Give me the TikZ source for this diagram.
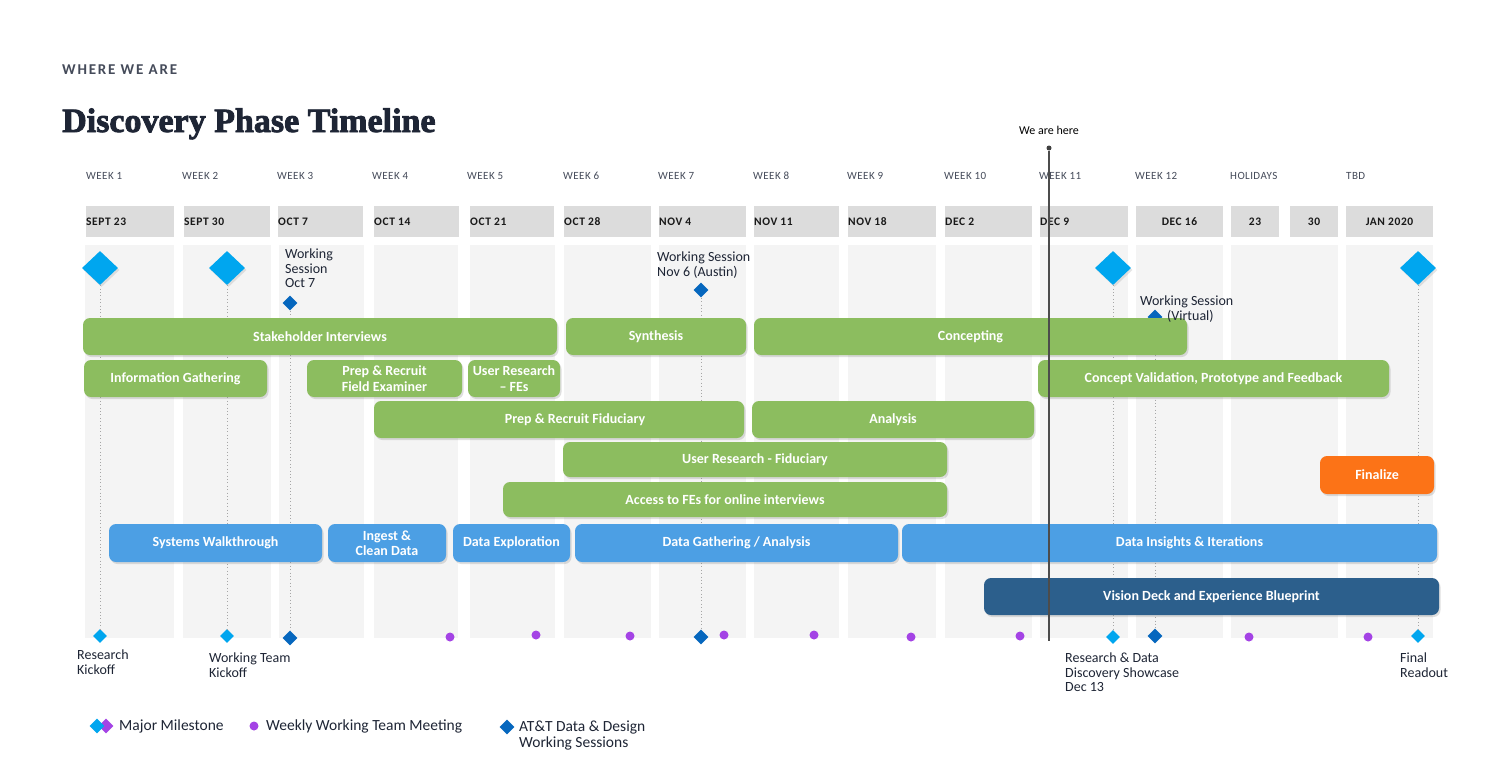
\documentclass[tikz,border=0pt]{standalone}
\usepackage{fontspec}
\setmainfont{Carlito}
\newfontfamily\titlefont{Liberation Serif}[UprightFont={* Bold},FakeBold=2.5]
\newfontfamily\kickerfont{Carlito}[LetterSpace=12]
\newfontfamily\weekfont{Carlito}[LetterSpace=4]
\newfontfamily\datefont{Carlito}[LetterSpace=5]
\usetikzlibrary{positioning,shapes.geometric,shadows}

\definecolor{colbg}{HTML}{F4F4F4}
\definecolor{datebg}{HTML}{DCDCDC}
\definecolor{barGreen}{HTML}{8CBD5F}
\definecolor{barBlue}{HTML}{4C9FE4}
\definecolor{barNavy}{HTML}{2C5F8C}
\definecolor{barOrange}{HTML}{FC7317}
\definecolor{mileBlue}{HTML}{00A6EF}
\definecolor{sessBlue}{HTML}{0667BE}
\definecolor{meetPurple}{HTML}{A443E5}
\definecolor{inkDark}{HTML}{1E2535}
\definecolor{inkGray}{HTML}{454B5A}

\begin{document}
\begin{tikzpicture}[x=1pt,y=-1pt,
  span/.style n args={4}{minimum width={(#3-#1)*1pt},minimum height={(#4-#2)*1pt},
    at={({(#1+#3)/2},{(#2+#4)/2})}},
  bar/.style={rounded corners=7pt,inner sep=0pt,align=center,text=white,
    font=\bfseries\fontsize{14}{15.5}\selectfont,
    drop shadow={shadow xshift=1.5pt,shadow yshift=-2pt,opacity=.25}},
  greenbar/.style={bar,fill=barGreen}, bluebar/.style={bar,fill=barBlue},
  navybar/.style={bar,fill=barNavy}, orangebar/.style={bar,fill=barOrange},
  milestone/.style={diamond,fill=mileBlue,inner sep=0pt,minimum width=36pt,minimum height=34pt,
    drop shadow={shadow xshift=1.5pt,shadow yshift=-2pt,opacity=.2}},
  smallmile/.style={diamond,fill=mileBlue,inner sep=0pt,minimum size=14pt},
  session/.style={diamond,fill=sessBlue,inner sep=0pt,minimum size=15pt},
  meeting/.style={circle,fill=meetPurple,inner sep=0pt,minimum size=9pt},
  guide/.style={black!35,line width=.8pt,dash pattern=on .8pt off 2.6pt},
  note/.style={align=left,inner sep=0pt,text=inkDark,font=\fontsize{14}{14.5}\selectfont},
  weeklbl/.style={inner sep=0pt,text=inkGray,font=\weekfont\fontsize{11}{12}\selectfont},
  datelbl/.style={inner sep=0pt,text=black!90,font=\datefont\bfseries\fontsize{11.5}{12}\selectfont},
  legendlbl/.style={align=left,inner sep=0pt,text=inkDark,font=\fontsize{15.5}{16}\selectfont}
]
\useasboundingbox[fill=white] (0,0) rectangle (1511,760);

% heading
\node[anchor=west,inner sep=0pt,text=inkGray,font=\kickerfont\bfseries\fontsize{15}{15}\selectfont]
  (kicker) at (62,70) {WHERE WE ARE};
\node[anchor=base west,inner sep=0pt,text=inkDark,font=\titlefont\fontsize{34}{36}\selectfont]
  (title) at (62,132) {Discovery Phase Timeline};

% weeks and dates
\foreach \x/\t [count=\i] in {86/WEEK 1,182/WEEK 2,277/WEEK 3,372/WEEK 4,467/WEEK 5,563/WEEK 6,
    658/WEEK 7,753/WEEK 8,847/WEEK 9,944/WEEK 10,1039/WEEK 11,1135/WEEK 12,1230/HOLIDAYS,1346/TBD}
  \node[weeklbl,anchor=west] (week\i) at (\x,176) {\t};
\foreach \l/\r in {86/174,184/270,278/363,374/459,470/554,564/651,659/746,754/839,848/936,
    945/1032,1040/1128,1136/1223,1231/1279,1290/1338,1346/1433}
  \fill[datebg] (\l,206) rectangle (\r,237);
\foreach \x/\t [count=\i] in {86/SEPT 23,184/SEPT 30,278/OCT 7,374/OCT 14,470/OCT 21,564/OCT 28,
    659/NOV 4,754/NOV 11,848/NOV 18,945/DEC 2,1040/DEC 9}
  \node[datelbl,anchor=west] (date\i) at (\x,222) {\t};
\foreach \x/\t [count=\i from 12] in {1179.5/DEC 16,1255/23,1314/30,1389.5/JAN 2020}
  \node[datelbl] (date\i) at (\x,222) {\t};

% week columns
\foreach \l/\r in {85/174,183/271,279/364,374/458,470/555,564/651,659/746,754/839,848/936,
    945/1032,1040/1128,1136/1223,1231/1338,1346/1433}
  \fill[colbg] (\l,245) rectangle (\r,638);

% milestones, sessions, meetings
\node[milestone] (ms1) at (100,268) {};
\node[milestone] (ms2) at (227,268) {};
\node[milestone] (ms3) at (1113,268) {};
\node[milestone] (ms4) at (1418,268) {};
\node[smallmile] (bm1) at (100,636) {};
\node[smallmile] (bm2) at (227,636) {};
\node[smallmile] (bm3) at (1113,637) {};
\node[smallmile] (bm4) at (1418,636) {};
\node[session] (ws1) at (290,303) {};
\node[session] (ws2) at (701,290) {};
\node[session] (ws3) at (1155,317) {};
\node[session] (bs1) at (290,638) {};
\node[session] (bs2) at (701,637) {};
\node[session] (bs3) at (1155,636) {};
\foreach \x/\y [count=\i] in {450/637,536/635,630/636,724/635,814/635,911/637,1020/636,1249/637,1368/637}
  \node[meeting] (meet\i) at (\x,\y) {};

\draw[guide] (ms1.south) -- (bm1.north);
\draw[guide] (ms2.south) -- (bm2.north);
\draw[guide] (ms3.south) -- (bm3.north);
\draw[guide] (ms4.south) -- (bm4.north);
\draw[guide] (ws1.south) -- (bs1.north);
\draw[guide] (ws2.south) -- (bs2.north);
\draw[guide] (ws3.south) -- (bs3.north);

% activity bars
\node[greenbar,span={83}{318}{557}{355}] (stake) {Stakeholder Interviews};
\node[greenbar,span={566}{318}{746}{355}] (synth) {Synthesis};
\node[greenbar,span={754}{318}{1187}{355}] (concept) {Concepting};
\node[greenbar,span={84}{360}{267}{397}] (infogath) {Information Gathering};
\node[greenbar,span={307}{360}{462}{397}] (prepfe) {Prep \& Recruit\\Field Examiner};
\node[greenbar,span={468}{360}{560}{397}] (resfe) {User Research\\\textendash\ FEs};
\node[greenbar,span={1038}{360}{1389}{397}] (validate) {Concept Validation, Prototype and Feedback};
\node[greenbar,span={374}{401}{744}{438}] (prepfid) {\hspace*{32pt}Prep \& Recruit Fiduciary};
\node[greenbar,span={752}{401}{1034}{438}] (analysis) {Analysis};
\node[greenbar,span={563}{442}{947}{477}] (resfid) {User Research - Fiduciary};
\node[greenbar,span={503}{482}{947}{517}] (access) {Access to FEs for online interviews};
\node[orangebar,span={1320}{456}{1434}{494}] (finalize) {Finalize};
\node[bluebar,span={109}{524}{322}{562}] (walk) {Systems Walkthrough};
\node[bluebar,span={328}{524}{446}{562}] (ingest) {Ingest \&\\Clean Data};
\node[bluebar,span={453}{524}{570}{562}] (explore) {Data Exploration};
\node[bluebar,span={575}{524}{898}{562}] (gather) {Data Gathering / Analysis};
\node[bluebar,span={902}{524}{1437}{562}] (insights) {\hspace*{40pt}Data Insights \& Iterations};
\node[navybar,span={984}{578}{1439}{615}] (vision) {Vision Deck and Experience Blueprint};

% today marker
\node[inner sep=0pt,text=black,font=\fontsize{12}{12}\selectfont] (here) at (1049,130) {We are here};
\node[circle,fill=black!75,inner sep=0pt,minimum size=5pt] (herept) at (1049,148) {};
\coordinate (herebot) at (1049,641);
\draw[black!70,line width=1.6pt] (herept) -- (herebot);

% notes
\node[note,anchor=north west] (oct7) at (285,249) {Working\\Session\\Oct 7};
\node[note,anchor=north west] (nov6) at (657,252) {Working Session\\Nov 6 (Austin)};
\node[note,anchor=north west] (virtual) at (1140,296) {Working Session\\\hspace*{27pt}(Virtual)};
\node[note,anchor=north west] (kickoff) at (77,650) {Research\\Kickoff};
\node[note,anchor=north west] (teamkick) at (209,653) {Working Team\\Kickoff};
\node[note,anchor=north west] (showcase) at (1065,653) {Research \& Data\\Discovery Showcase\\Dec 13};
\node[note,anchor=north west] (readout) at (1400,653) {Final\\Readout};

% legend
\node[smallmile,fill=meetPurple,minimum size=15pt] (legpurple) at (106,726) {};
\node[smallmile,minimum size=15pt] (legmile) at (97,726) {};
\node[legendlbl,anchor=west] (legmiletxt) at (119,726) {Major Milestone};
\node[meeting] (legmeet) at (254,726) {};
\node[legendlbl,anchor=west] (legmeettxt) at (266,726) {Weekly Working Team Meeting};
\node[session] (legsess) at (507,727) {};
\node[legendlbl,anchor=north west] (legsesstxt) at (519,721) {AT\&T Data \& Design\\Working Sessions};
\end{tikzpicture}
\end{document}
